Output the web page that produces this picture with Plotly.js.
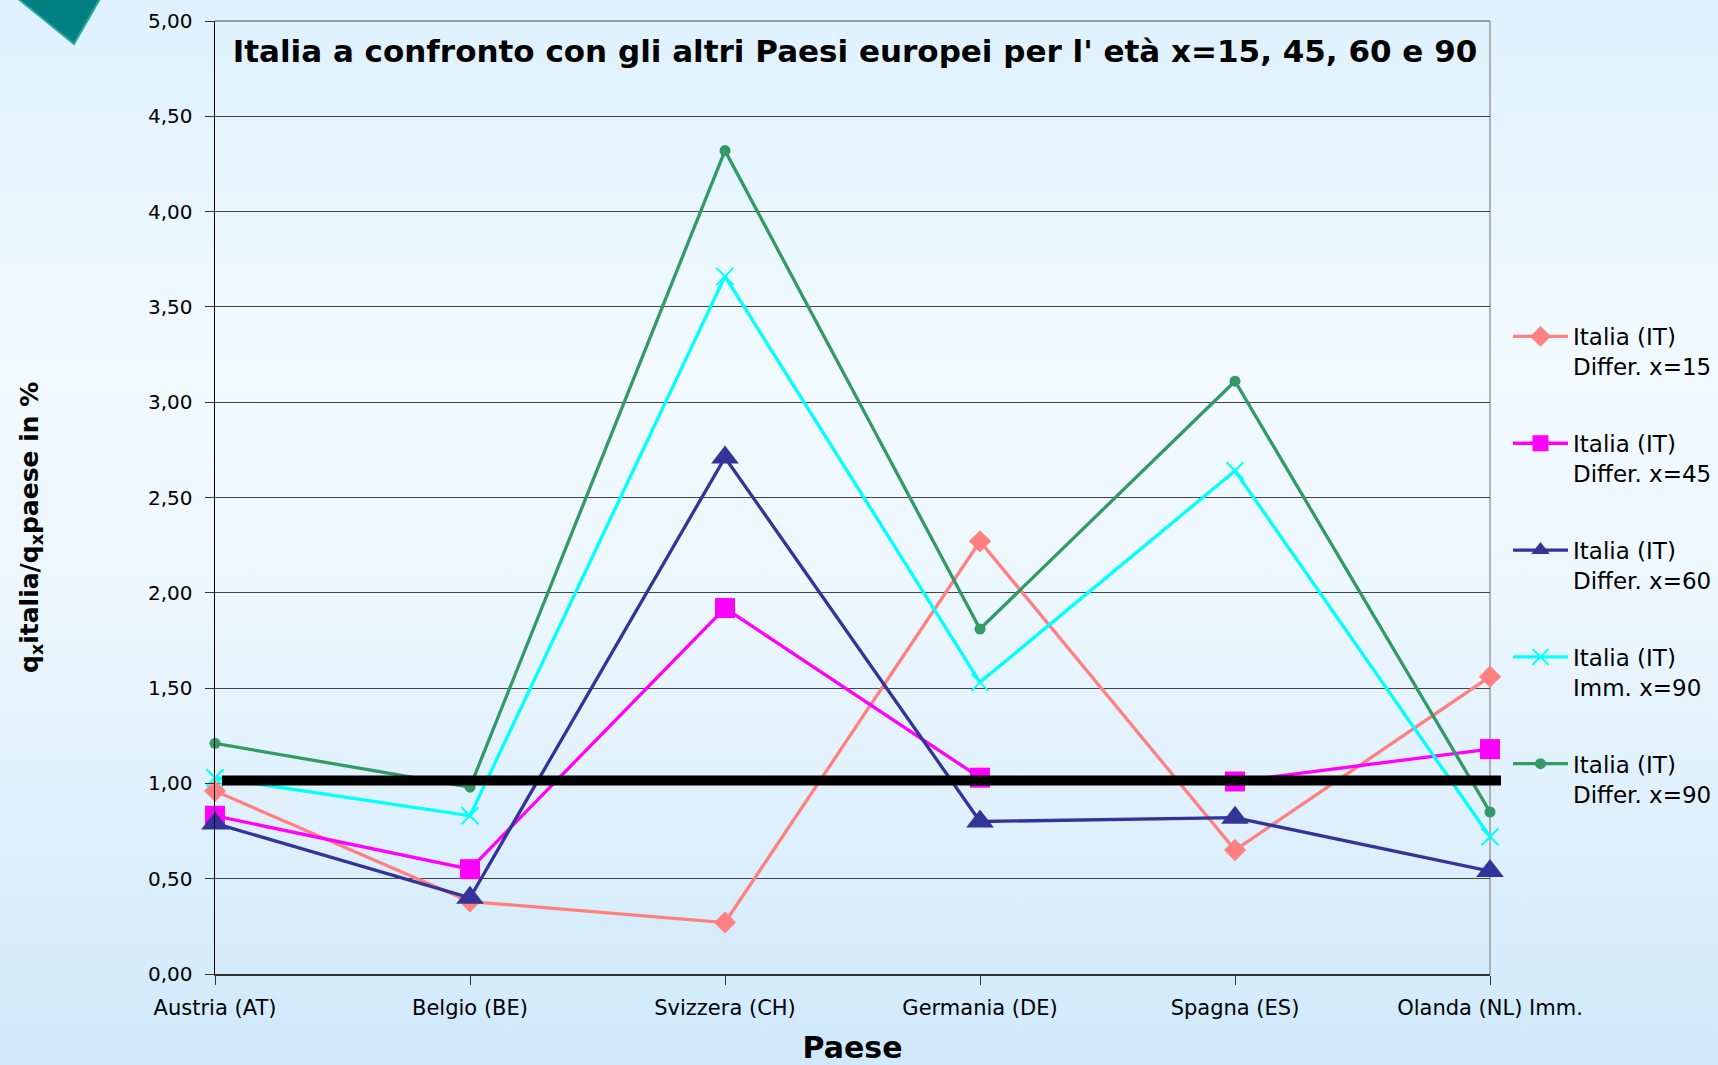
<!DOCTYPE html>
<html>
<head>
<meta charset="utf-8">
<script src="https://cdn.plot.ly/plotly-3.0.1.min.js"></script>
<style>
  html, body { margin: 0; padding: 0; }
  body {
    width: 1718px; height: 1065px; overflow: hidden;
    background: linear-gradient(to bottom, #def1fd 0%, #f2faff 35%, #edf7fe 55%, #cfe9fb 100%);
  }
  #chart { width: 1718px; height: 1065px; }
</style>
</head>
<body>
<div id="chart"></div>
<script>
// ---- data ----
const categories = ["Austria (AT)", "Belgio (BE)", "Svizzera (CH)", "Germania (DE)", "Spagna (ES)", "Olanda (NL) Imm."];
const seriesNames = [
  "Italia (IT)<br>Differ. x=15",
  "Italia (IT)<br>Differ. x=45",
  "Italia (IT)<br>Differ. x=60",
  "Italia (IT)<br>Imm. x=90",
  "Italia (IT)<br>Differ. x=90"
];
const diff15 = [0.96, 0.38, 0.27, 2.27, 0.65, 1.56];
const diff45 = [0.83, 0.55, 1.92, 1.03, 1.01, 1.18];
const diff60 = [0.79, 0.40, 2.71, 0.80, 0.82, 0.54];
const imm90  = [1.03, 0.83, 3.66, 1.53, 2.64, 0.72];
const diff90 = [1.21, 0.98, 4.32, 1.81, 3.11, 0.85];
const referenceLevel = 1.015;
const yTickVals = [0, 0.5, 1, 1.5, 2, 2.5, 3, 3.5, 4, 4.5, 5];
const yTickText = ["0,00", "0,50", "1,00", "1,50", "2,00", "2,50", "3,00", "3,50", "4,00", "4,50", "5,00"];
const chartTitle = "Italia a confronto con gli altri Paesi europei per l' età x=15, 45, 60 e 90";
const xTitle = "Paese";
const yTitle = "q<sub>x</sub>italia/q<sub>x</sub>paese in %";

// ---- styles ----
const styles = [
  { color: "#FF8080", symbol: "diamond", size: 17 },
  { color: "#FF00FF", symbol: "square", size: 20 },
  { color: "#333399", symbol: "triangle-up", size: 24 },
  { color: "#00FFFF", symbol: "x-thin", size: 17 },
  { color: "#339966", symbol: "circle", size: 11 }
];
const values = [diff15, diff45, diff60, imm90, diff90];

const traces = values.map((v, i) => {
  const s = styles[i];
  const marker = { symbol: s.symbol, size: s.size, color: s.color };
  if (s.symbol === "x-thin") marker.line = { color: s.color, width: 2 };
  else marker.line = { width: 0 };
  return {
    type: "scatter", mode: "lines+markers",
    x: categories, y: v, name: seriesNames[i],
    legendgroup: "g" + i,
    line: { color: s.color, width: 3.3 },
    marker: marker,
    cliponaxis: false
  };
});

const L = 215, R = 228, T = 21, B = 91, W = 1718, H = 1065;
const pw = W - L - R, ph = H - T - B;
const px = p => (p - L) / pw;
const py = p => (H - B - p) / ph;

const FONT = "DejaVu Sans, sans-serif";

const layout = {
  width: W, height: H,
  margin: { l: L, r: R, t: T, b: B, pad: 0, autoexpand: false },
  paper_bgcolor: "rgba(0,0,0,0)",
  plot_bgcolor: "rgba(0,0,0,0)",
  font: { family: FONT, color: "#000" },
  title: {
    text: chartTitle,
    font: { family: FONT, size: 31, color: "#000", weight: "bold" },
    xref: "paper", x: px(855), xanchor: "center",
    yref: "container", y: 1 - 51 / H, yanchor: "middle"
  },
  showlegend: true,
  legend: {
    x: px(1508), xanchor: "left", y: py(315), yanchor: "top",
    bgcolor: "rgba(0,0,0,0)", borderwidth: 0,
    font: { family: FONT, size: 23, color: "#000" },
    itemwidth: 55, tracegroupgap: 44, valign: "top"
  },
  xaxis: {
    type: "category", range: [0, 5],
    showgrid: false, zeroline: false,
    showline: true, linecolor: "#333", linewidth: 1.5,
    ticks: "outside", ticklen: 9, tickcolor: "#333", tickwidth: 1,
    tickfont: { family: FONT, size: 21, color: "#000" },
    ticklabelstandoff: 5,
    title: { text: xTitle, font: { family: FONT, size: 30, color: "#000", weight: "bold" }, standoff: 20 },
    automargin: false, fixedrange: true
  },
  yaxis: {
    range: [0, 5],
    tickvals: yTickVals, ticktext: yTickText,
    showgrid: true, gridcolor: "#444", gridwidth: 1,
    zeroline: false,
    showline: true, linecolor: "#000", linewidth: 1.5,
    ticks: "outside", ticklen: 9, tickcolor: "#333", tickwidth: 1,
    tickfont: { family: FONT, size: 20, color: "#000" },
    ticklabelstandoff: 8,
    automargin: false, fixedrange: true
  },
  annotations: [
    { text: yTitle, textangle: -90, showarrow: false,
      xref: "paper", yref: "paper", x: px(31), y: py(528), xanchor: "center", yanchor: "middle",
      font: { family: FONT, size: 25, color: "#000", weight: "bold" } }
  ],
  shapes: [
    { type: "line", xref: "paper", yref: "paper", x0: 1, x1: 1, y0: 0, y1: 1, line: { color: "#9a9a9a", width: 1.5 }, layer: "below" },
    { type: "line", xref: "paper", yref: "paper", x0: 0, x1: 1, y0: 1, y1: 1, line: { color: "#808080", width: 1.5 }, layer: "below" },
    { type: "line", xref: "paper", yref: "y", x0: px(222), x1: px(1501), y0: referenceLevel, y1: referenceLevel, line: { color: "#000", width: 10 }, layer: "above" },
    { type: "path", xref: "paper", yref: "paper",
      path: `M${px(16)},${py(-3)} L${px(101)},${py(-3)} L${px(74)},${py(44)} Z`,
      fillcolor: "#008080", line: { color: "#2aa6a6", width: 2 }, layer: "above" }
  ]
};

Plotly.newPlot("chart", traces, layout, { displayModeBar: false, staticPlot: true });
</script>
</body>
</html>
